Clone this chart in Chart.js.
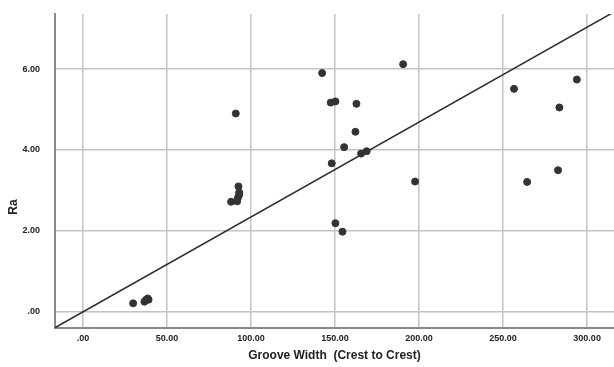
<!DOCTYPE html>
<html lang="en">
<head>
    <meta charset="UTF-8">
    <title>Ra vs Groove Width</title>
    <script src="https://cdn.jsdelivr.net/npm/chart.js"></script>
    <style>
        html, body { margin: 0; padding: 0; background: #fff; }
        #wrap { width: 614px; height: 367px; }
    </style>
</head>
<body>
    <div id="wrap">
        <canvas id="scatter"></canvas>
    </div>

    <script>
        // values
        var grooveWidth = [29.8, 36.5, 37.5, 38.5, 39.0,
                           88.1, 91.7, 92.1, 92.9, 92.9, 92.5, 90.9,
                           142.3, 147.4, 150.2, 162.7, 162.1, 155.4, 165.5, 168.8, 148.0,
                           150.2, 154.4, 197.6, 190.5,
                           256.5, 264.3, 282.7, 283.5, 293.9];
        var ra = [0.21, 0.25, 0.30, 0.33, 0.30,
                  2.72, 2.73, 2.81, 2.89, 2.95, 3.10, 4.90,
                  5.90, 5.17, 5.20, 5.14, 4.45, 4.07, 3.91, 3.97, 3.67,
                  2.19, 1.98, 3.22, 6.12,
                  5.51, 3.21, 3.50, 5.05, 5.74];
        var lineX = [-17, 316];
        var lineY = [-0.40, 7.41];
        var xTicks = [0, 50, 100, 150, 200, 250, 300];
        var yTicks = [0, 2, 4, 6];

        function fmt(v) {
            return v === 0 ? '.00' : v.toFixed(2);
        }

        var points = grooveWidth.map(function (x, i) { return { x: x, y: ra[i] }; });
        var line = lineX.map(function (x, i) { return { x: x, y: lineY[i] }; });

        // y title sits a bit below the middle in the original, so draw it by hand
        var yTitle = {
            id: 'yTitle',
            afterDraw: function (chart) {
                var c = chart.ctx;
                c.save();
                c.translate(14, 207);
                c.rotate(-Math.PI / 2);
                c.fillStyle = '#222';
                c.font = 'bold 12px "Liberation Sans", Arial';
                c.textAlign = 'center';
                c.textBaseline = 'middle';
                c.fillText('Ra', 0, 0);
                c.restore();
            }
        };

        var ctx = document.getElementById('scatter').getContext('2d');
        new Chart(ctx, {
            type: 'scatter',
            data: {
                datasets: [
                    {
                        data: points,
                        backgroundColor: '#333333',
                        borderColor: '#333333',
                        pointRadius: 3.5,
                        pointHoverRadius: 3.5
                    },
                    {
                        type: 'line',
                        data: line,
                        borderColor: '#2a2a2a',
                        borderWidth: 1.5,
                        pointRadius: 0,
                        fill: false
                    }
                ]
            },
            options: {
                responsive: true,
                maintainAspectRatio: false,
                animation: false,
                layout: { autoPadding: false, padding: { top: 14, left: 0, right: 0, bottom: 0 } },
                plugins: {
                    legend: { display: false },
                    tooltip: { enabled: false }
                },
                scales: {
                    x: {
                        type: 'linear',
                        min: -16.7,
                        max: 316,
                        afterBuildTicks: function (axis) {
                            axis.ticks = xTicks.map(function (v) { return { value: v }; });
                        },
                        afterFit: function (axis) {
                            axis.height = 39;
                            axis.paddingLeft = 0;
                            axis.paddingRight = 0;
                        },
                        ticks: {
                            callback: fmt,
                            color: '#222',
                            padding: 5,
                            maxRotation: 0,
                            font: { family: 'Liberation Sans, Arial', size: 9, weight: 'bold' }
                        },
                        grid: { color: '#c4c4c4', lineWidth: 1.5, drawTicks: false },
                        border: { color: '#8a8a8a', width: 2 },
                        title: {
                            display: true,
                            text: 'Groove Width  (Crest to Crest)',
                            color: '#222',
                            padding: { top: 6 },
                            font: { family: 'Liberation Sans, Arial', size: 12, weight: 'bold' }
                        }
                    },
                    y: {
                        type: 'linear',
                        min: -0.4,
                        max: 7.36,
                        afterBuildTicks: function (axis) {
                            axis.ticks = yTicks.map(function (v) { return { value: v }; });
                        },
                        afterFit: function (axis) {
                            axis.width = 55;
                            axis.paddingTop = 0;
                            axis.paddingBottom = 0;
                        },
                        ticks: {
                            callback: fmt,
                            color: '#222',
                            padding: 15,
                            font: { family: 'Liberation Sans, Arial', size: 9, weight: 'bold' }
                        },
                        grid: { color: '#c4c4c4', lineWidth: 1.5, drawTicks: false },
                        border: { color: '#8a8a8a', width: 2 }
                    }
                }
            },
            plugins: [yTitle]
        });
    </script>
</body>
</html>
